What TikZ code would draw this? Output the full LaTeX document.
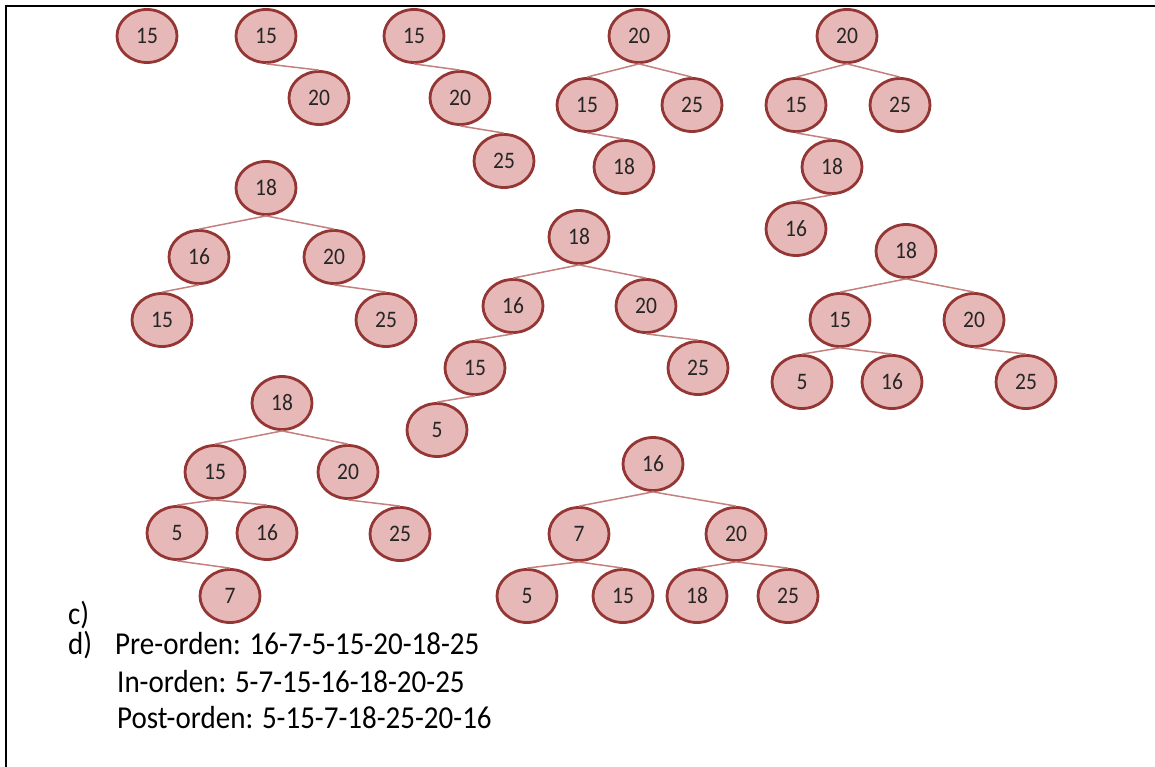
\documentclass[tikz,border=0pt]{standalone}
\usepackage{fontspec}
\setmainfont{Carlito}
\usepackage{graphicx}
\usetikzlibrary{shapes.geometric}
\definecolor{nodefill}{HTML}{E6B9B8}
\definecolor{nodeline}{HTML}{943634}
\definecolor{edgecol}{RGB}{196,128,126}
\definecolor{labcol}{RGB}{38,38,38}
\tikzset{
  tn/.style={ellipse, draw=nodeline, fill=nodefill, line width=2.8pt,
    minimum width=60pt, minimum height=53pt, inner sep=0pt,
    text=labcol, font=\fontsize{21.5}{21.5}\selectfont},
  ed/.style={draw=edgecol, line width=1.5pt},
  txt/.style={anchor=base west, inner sep=0pt, font=\fontsize{29}{29}\selectfont}
}
\newcommand{\lb}[1]{\scalebox{1}[1.1]{#1}}
\begin{document}
\begin{tikzpicture}[x=1pt,y=-1pt]
\useasboundingbox (0,0) rectangle (1155,767);
\draw[line width=2.4pt] (6,767) -- (6,6) -- (1155,6);
\begin{scope}
\clip (0,0) rectangle (1155,625);
% T1
\node[tn] (a1) at (147,36) {\lb{15}};
% T2
\node[tn] (b1) at (266,36) {\lb{15}};
\node[tn] (b2) at (319,98) {\lb{20}};
% T3
\node[tn] (c1) at (414,36) {\lb{15}};
\node[tn] (c2) at (460,98) {\lb{20}};
\node[tn] (c3) at (504,161) {\lb{25}};
% T4
\node[tn] (d1) at (639,36) {\lb{20}};
\node[tn] (d2) at (587,105) {\lb{15}};
\node[tn] (d3) at (692,105) {\lb{25}};
\node[tn] (d4) at (624,167) {\lb{18}};
% T5
\node[tn] (e1) at (847,36) {\lb{20}};
\node[tn] (e2) at (796,105) {\lb{15}};
\node[tn] (e3) at (900,105) {\lb{25}};
\node[tn] (e4) at (832,167) {\lb{18}};
\node[tn] (e5) at (796,229) {\lb{16}};
% T6
\node[tn] (f1) at (266,188) {\lb{18}};
\node[tn] (f2) at (199,257) {\lb{16}};
\node[tn] (f3) at (334,257) {\lb{20}};
\node[tn] (f4) at (162,320) {\lb{15}};
\node[tn] (f5) at (386,320) {\lb{25}};
% T7
\node[tn] (g1) at (579,237) {\lb{18}};
\node[tn] (g2) at (513,306) {\lb{16}};
\node[tn] (g3) at (646,306) {\lb{20}};
\node[tn] (g4) at (475,368) {\lb{15}};
\node[tn] (g5) at (698,368) {\lb{25}};
\node[tn] (g6) at (437,430) {\lb{5}};
% T8
\node[tn] (h1) at (906,251) {\lb{18}};
\node[tn] (h2) at (840,320) {\lb{15}};
\node[tn] (h3) at (974,320) {\lb{20}};
\node[tn] (h4) at (802,382) {\lb{5}};
\node[tn] (h5) at (892,382) {\lb{16}};
\node[tn] (h6) at (1026,382) {\lb{25}};
% T9
\node[tn] (i1) at (282,403) {\lb{18}};
\node[tn] (i2) at (215,472) {\lb{15}};
\node[tn] (i3) at (348,472) {\lb{20}};
\node[tn] (i4) at (177,533) {\lb{5}};
\node[tn] (i5) at (267,533) {\lb{16}};
\node[tn] (i6) at (400,534) {\lb{25}};
\node[tn] (i7) at (230,596) {\lb{7}};
% T10
\node[tn] (j1) at (653,464) {\lb{16}};
\node[tn] (j2) at (579,534) {\lb{7}};
\node[tn] (j3) at (736,534) {\lb{20}};
\node[tn] (j4) at (527,596) {\lb{5}};
\node[tn] (j5) at (623,596) {\lb{15}};
\node[tn] (j6) at (697,596) {\lb{18}};
\node[tn] (j7) at (788,596) {\lb{25}};
\end{scope}
% edges
\foreach \p/\c in {b1/b2, c1/c2, c2/c3, d1/d2, d1/d3, d2/d4,
  e1/e2, e1/e3, e2/e4, e4/e5,
  f1/f2, f1/f3, f2/f4, f3/f5,
  g1/g2, g1/g3, g2/g4, g3/g5, g4/g6,
  h1/h2, h1/h3, h2/h4, h2/h5, h3/h6,
  i1/i2, i1/i3, i2/i4, i2/i5, i3/i6, i4/i7,
  j1/j2, j1/j3, j2/j4, j2/j5, j3/j6, j3/j7}
  \draw[ed] (\p.south) -- (\c.north);
% text
\node[txt] (tc) at (68,624) {\lb{c)}};
\node[txt] (td) at (68,654) {\lb{d)}};
\node[txt] (t1) at (115,654) {\lb{Pre-orden: 16-7-5-15-20-18-25}};
\node[txt] (t2) at (117,692) {\lb{In-orden: 5-7-15-16-18-20-25}};
\node[txt] (t3) at (117,728) {\lb{Post-orden: 5-15-7-18-25-20-16}};
\end{tikzpicture}
\end{document}
